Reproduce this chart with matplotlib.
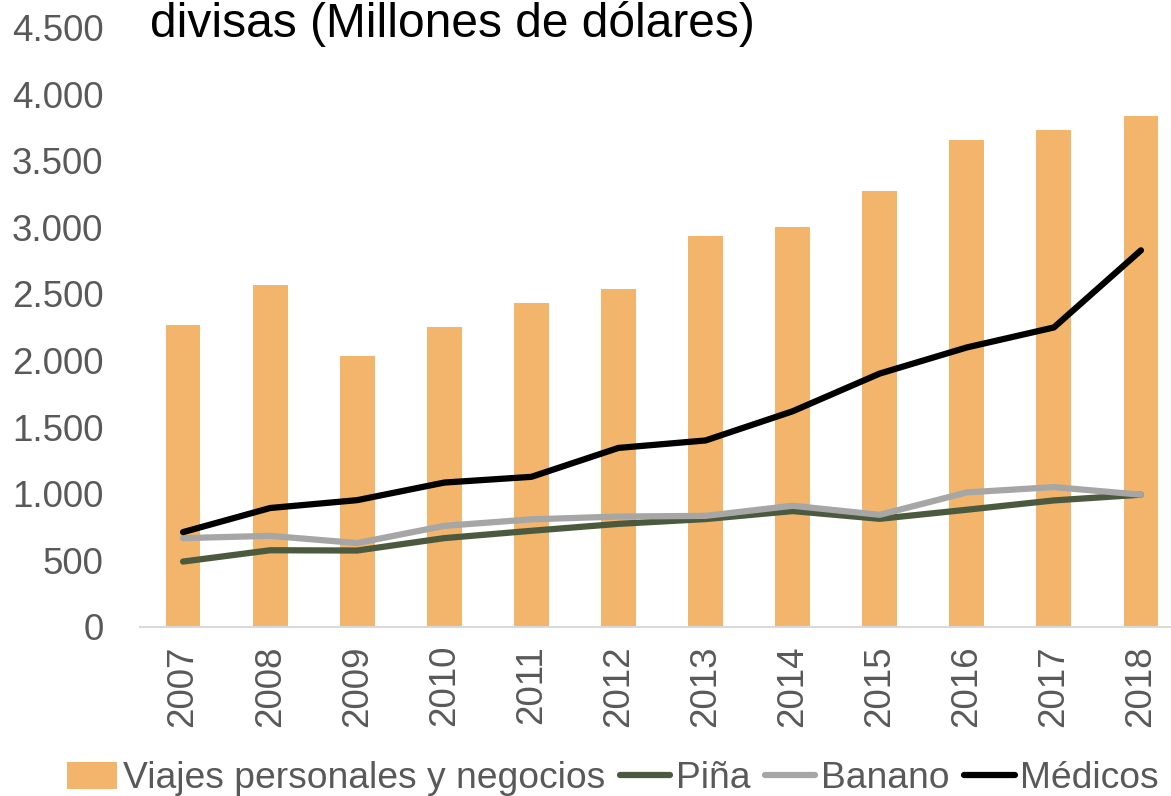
import matplotlib
matplotlib.use("Agg")
import matplotlib.pyplot as plt
from matplotlib.ticker import FuncFormatter

plt.rcParams['font.family'] = ['Liberation Sans', 'DejaVu Sans']

# values (millones de dólares)
years = ['2007', '2008', '2009', '2010', '2011', '2012',
         '2013', '2014', '2015', '2016', '2017', '2018']
viajes = [2265, 2568, 2035, 2252, 2432, 2538, 2936, 3005, 3275, 3658, 3733, 3838]
pina = [491, 576, 574, 667, 722, 774, 810, 870, 812, 880, 950, 993]
banano = [667, 684, 630, 759, 808, 829, 834, 910, 842, 1010, 1050, 993]
medicos = [712, 893, 952, 1084, 1127, 1344, 1400, 1619, 1902, 2098, 2248, 2827]

grey_txt = '#595959'

fig = plt.figure(figsize=(11.71, 7.96), dpi=100)
ax = fig.add_axes([139.5 / 1171, 169 / 796, 1045 / 1171, 599.6 / 796])

x = list(range(len(years)))
b = ax.bar(x, viajes, width=0.40, color='#F3B56B', label='Viajes personales y negocios', zorder=2)
l1, = ax.plot(x, pina, color='#4B5A3E', lw=4.5, solid_capstyle='round', label='Piña', zorder=3)
l2, = ax.plot(x, banano, color='#A6A6A6', lw=4.5, solid_capstyle='round', label='Banano', zorder=3)
l3, = ax.plot(x, medicos, color='#000000', lw=4.5, solid_capstyle='round', label='Médicos', zorder=4)

ax.set_xlim(-0.5, len(years) - 0.5)
ax.set_ylim(0, 4500)
ax.set_yticks(range(0, 4501, 500))
ax.yaxis.set_major_formatter(FuncFormatter(lambda v, p: f'{int(v):,}'.replace(',', '.')))
ax.set_xticks(x)
ax.set_xticklabels(years, rotation=90)

for s in ['top', 'right', 'left']:
    ax.spines[s].set_visible(False)
ax.spines['bottom'].set_color('#D9D9D9')
ax.spines['bottom'].set_linewidth(1.5)
ax.tick_params(axis='both', length=0, labelsize=26.5, colors=grey_txt)
ax.tick_params(axis='y', pad=26)
ax.tick_params(axis='x', pad=13)

fig.text(150 / 1171, (796 - 37) / 796, 'divisas (Millones de dólares)',
         fontsize=34.5, color='black', va='baseline', ha='left')

fig.legend([b, l1, l2, l3], ['Viajes personales y negocios', 'Piña', 'Banano', 'Médicos'],
           loc='center left', bbox_to_anchor=(67 / 1171, 17 / 796), ncol=4,
           frameon=False, fontsize=26.8, labelcolor=grey_txt,
           handlelength=1.35, handleheight=0.7, handletextpad=0.15,
           columnspacing=0.4, borderpad=0, borderaxespad=0)

fig.savefig('out.png', dpi=100)
